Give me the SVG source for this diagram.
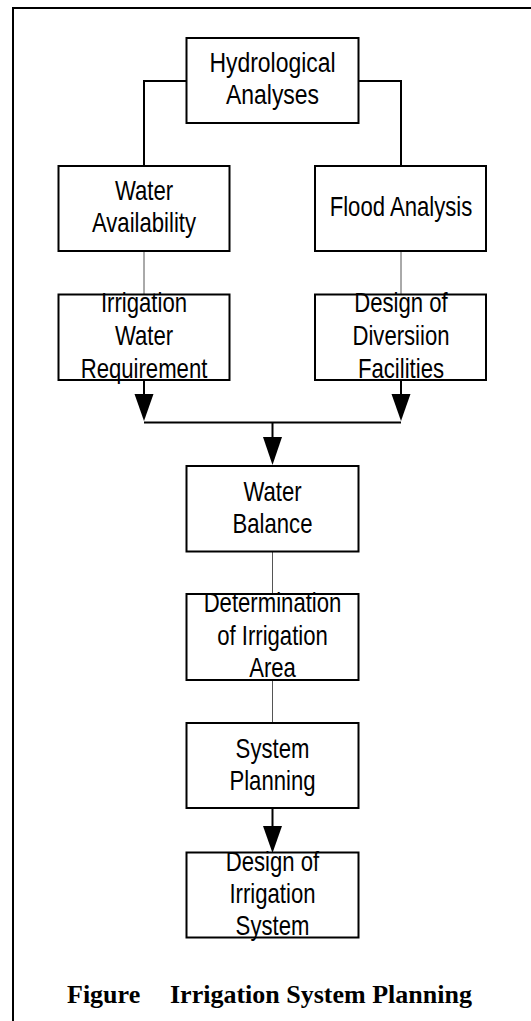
<svg xmlns="http://www.w3.org/2000/svg" width="531" height="1021" viewBox="0 0 531 1021">
  <style>
    .frame { fill: none; stroke: #000; stroke-width: 2; }
    .box { fill: #fff; stroke: #000; stroke-width: 2; }
    .label { font-family: "Liberation Sans", Arial, sans-serif; font-size: 27px; fill: #000; text-anchor: middle; }
    .link { fill: none; stroke: #000; stroke-width: 2; }
    .thin { fill: none; stroke: #555; stroke-width: 1; }
    .head { fill: #000; stroke: none; }
    .caption { font-family: "Liberation Serif", "Times New Roman", serif; font-size: 26px; font-weight: bold; fill: #000; }
  </style>

  <rect width="531" height="1021" fill="#fff"/>

  <!-- page frame: top and left rules only -->
  <path class="frame" d="M13 1021 V8 H531"/>

  <!-- connectors -->
  <g id="connectors">
    <path class="link" d="M186.5 81 H144 V166"/>
    <path class="link" d="M358.5 81 H401 V166"/>
    <path class="thin" d="M144 251 V294.5"/>
    <path class="thin" d="M401 251 V294.5"/>
    <path class="link" d="M144 380 V395"/>
    <polygon class="head" points="134.5,394 153.5,394 144,421"/>
    <path class="link" d="M401 380 V395"/>
    <polygon class="head" points="391.5,394 410.5,394 401,421"/>
    <path class="link" d="M144 422.5 H401"/>
    <path class="link" d="M272.5 422.5 V438"/>
    <polygon class="head" points="263,437 282,437 272.5,465"/>
    <path class="thin" d="M272.5 551.5 V594"/>
    <path class="thin" d="M272.5 680 V723"/>
    <path class="link" d="M272.5 808 V827"/>
    <polygon class="head" points="263,826 282,826 272.5,853"/>
  </g>

  <g id="hydrological-analyses">
    <rect class="box" x="186.5" y="38" width="172" height="85"/>
    <text class="label" transform="translate(272.5 0) scale(0.85 1)"><tspan x="0" y="72">Hydrological</tspan><tspan x="0" y="104">Analyses</tspan></text>
  </g>

  <g id="water-availability">
    <rect class="box" x="58.5" y="166" width="171" height="85"/>
    <text class="label" transform="translate(144 0) scale(0.82 1)"><tspan x="0" y="200">Water</tspan><tspan x="0" y="232">Availability</tspan></text>
  </g>

  <g id="flood-analysis">
    <rect class="box" x="315" y="166" width="171" height="85"/>
    <text class="label" transform="translate(401 0) scale(0.82 1)"><tspan x="0" y="216">Flood Analysis</tspan></text>
  </g>

  <g id="irrigation-water-requirement">
    <rect class="box" x="58.5" y="294.5" width="171" height="85.5"/>
    <text class="label" transform="translate(144 0) scale(0.82 1)"><tspan x="0" y="312">Irrigation</tspan><tspan x="0" y="345">Water</tspan><tspan x="0" y="378">Requirement</tspan></text>
  </g>

  <g id="design-of-diversion-facilities">
    <rect class="box" x="315" y="294.5" width="171" height="85.5"/>
    <text class="label" transform="translate(401 0) scale(0.82 1)"><tspan x="0" y="312">Design of</tspan><tspan x="0" y="345">Diversiion</tspan><tspan x="0" y="378">Facilities</tspan></text>
  </g>

  <g id="water-balance">
    <rect class="box" x="186.5" y="466" width="172" height="85.5"/>
    <text class="label" transform="translate(272.5 0) scale(0.82 1)"><tspan x="0" y="501">Water</tspan><tspan x="0" y="533">Balance</tspan></text>
  </g>

  <g id="determination-of-irrigation-area">
    <rect class="box" x="186.5" y="594" width="172" height="86"/>
    <text class="label" transform="translate(272.5 0) scale(0.82 1)"><tspan x="0" y="612.5">Determination</tspan><tspan x="0" y="645">of Irrigation</tspan><tspan x="0" y="677.5">Area</tspan></text>
  </g>

  <g id="system-planning">
    <rect class="box" x="186.5" y="723" width="172" height="85"/>
    <text class="label" transform="translate(272.5 0) scale(0.82 1)"><tspan x="0" y="758">System</tspan><tspan x="0" y="790">Planning</tspan></text>
  </g>

  <g id="design-of-irrigation-system">
    <rect class="box" x="186.5" y="852.5" width="172" height="85"/>
    <text class="label" transform="translate(272.5 0) scale(0.82 1)"><tspan x="0" y="871">Design of</tspan><tspan x="0" y="903">Irrigation</tspan><tspan x="0" y="935">System</tspan></text>
  </g>

  <text class="caption" y="1003"><tspan x="67">Figure</tspan><tspan x="170">Irrigation System Planning</tspan></text>
</svg>
